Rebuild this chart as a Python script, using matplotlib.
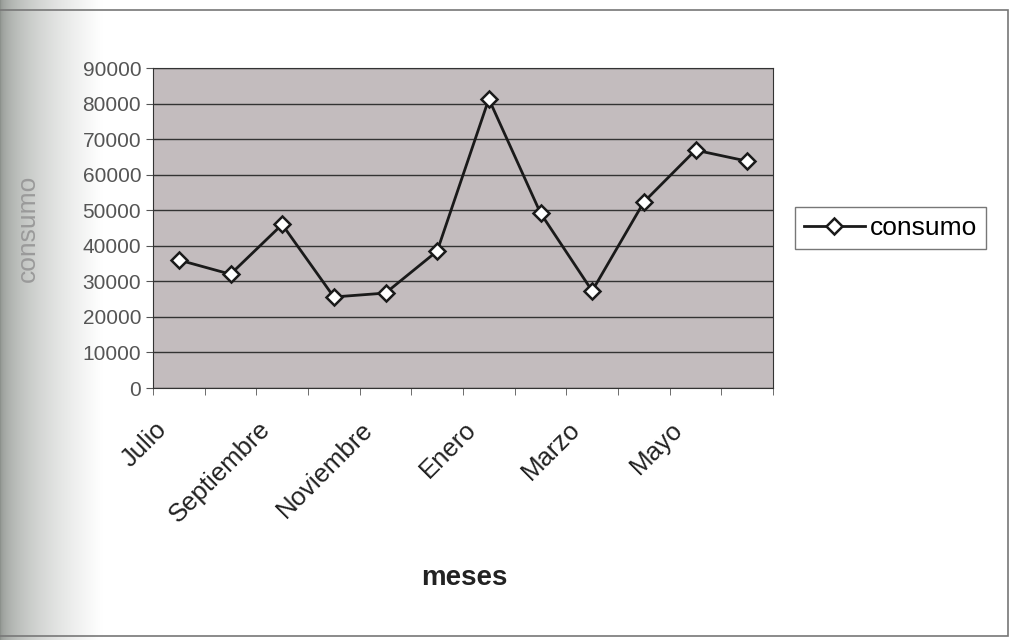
import numpy as np
import matplotlib.pyplot as plt
import matplotlib.transforms as mtransforms
from matplotlib.patches import Rectangle

# monthly consumption, July to June
meses = ['Julio', 'Agosto', 'Septiembre', 'Octubre', 'Noviembre', 'Diciembre',
         'Enero', 'Febrero', 'Marzo', 'Abril', 'Mayo', 'Junio']
consumo = [36000, 32000, 46000, 25600, 26700, 38500,
           81300, 49200, 27300, 52300, 66900, 63800]

plt.rcParams['font.family'] = ['Liberation Sans', 'DejaVu Sans']

W, H = 1013, 640
fig = plt.figure(figsize=(W/100, H/100), dpi=100)

# page shadow on the left edge (scanned look)
bg = fig.add_axes([0, 0, 1, 1], zorder=-10)
bg.set_axis_off()
grad = np.linspace(0, 1, W)
shade = np.clip(grad / 0.10, 0, 1) ** 0.5
img = np.ones((2, W, 3))
for k, c in enumerate((0.55, 0.57, 0.55)):
    img[:, :, k] = c + (1 - c) * shade
bg.imshow(img, aspect='auto', extent=[0, 1, 0, 1])
bg.set_xlim(0, 1)
bg.set_ylim(0, 1)
bg.add_patch(Rectangle((-0.01, 4/H), 1008/W + 0.01, 1 - 14/H, fill=False,
                       ec='#777777', lw=1.2))

ax = fig.add_axes([153/W, 1-388/H, 620/W, 320/H])

x = np.arange(len(meses))
ax.plot(x, consumo, color='#1a1a1a', lw=2, marker='D', ms=8,
        mfc='white', mec='#1a1a1a', mew=1.8, label='consumo')

ax.set_facecolor('#c3bcbe')
ax.set_xlim(-0.5, len(meses)-0.5)
ax.set_ylim(0, 90000)
ax.set_yticks(np.arange(0, 90001, 10000))
ax.yaxis.grid(True, color='#333333', lw=1)
ax.set_axisbelow(True)

# labels every other month, tick marks between categories
ax.set_xticks(x[::2])
ax.set_xticklabels(meses[::2], rotation=45, ha='right', va='center',
                   rotation_mode='anchor')
ax.set_xticks(np.arange(-0.5, len(meses)), minor=True)
ax.tick_params(axis='x', which='major', length=0, pad=27, labelsize=18.5, labelcolor='#222222')
ax.tick_params(axis='x', which='minor', length=5, color='#555555')
ax.tick_params(axis='y', length=5, labelsize=15, labelcolor='#555555', color='#555555')
shift = mtransforms.ScaledTranslation(-16/100, 0, fig.dpi_scale_trans)
for lab in ax.get_xticklabels():
    lab.set_transform(lab.get_transform() + shift)
for s in ax.spines.values():
    s.set_color('#333333')

ax.set_xlabel('meses', fontsize=20, fontweight='bold', color='#222222')
ax.xaxis.set_label_coords(0.502, -(578-388)/320, transform=ax.transAxes)
ax.xaxis.label.set_va('center')
ax.set_ylabel('consumo', fontsize=19, color='#9a9a9a')
ax.yaxis.set_label_coords(-(153-28)/620, 0.5)
ax.yaxis.label.set_va('center')

leg = ax.legend(loc='center left', bbox_to_anchor=(1.035, 0.5), fontsize=19,
                frameon=True, fancybox=False, edgecolor='#555555',
                handlelength=2.3, handletextpad=0.2, borderpad=0.35,
                borderaxespad=0)
leg.get_frame().set_linewidth(1.0)

fig.savefig('out.png', dpi=100)
